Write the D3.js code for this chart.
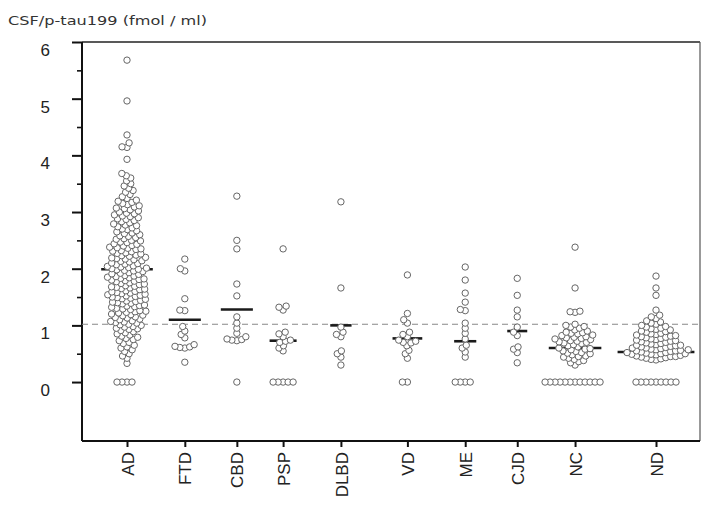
<!DOCTYPE html>
<html>
<head>
<meta charset="utf-8">
<script src="https://cdn.jsdelivr.net/npm/d3@7"></script>
<style>
  body { margin: 0; background: #fff; }
  svg { display: block; }
</style>
</head>
<body>
<div id="chart"></div>
<script>
// ---- data ----
var categories = ["AD", "FTD", "CBD", "PSP", "DLBD", "VD", "ME", "CJD", "NC", "ND"];

var valuesAD = [5.68, 4.96, 4.36, 4.22, 4.15, 4.14, 3.93, 3.68, 3.64, 3.6,
  3.55, 3.5, 3.46, 3.42,
  3.38, 3.35, 3.31, 3.27, 3.24, 3.21,
  3.19, 3.17, 3.15, 3.13, 3.11, 3.09, 3.07, 3.06, 3.04,
  3.02, 3.0, 2.98, 2.97, 2.95, 2.93, 2.92, 2.9, 2.88, 2.87,
  2.85, 2.83, 2.81, 2.79, 2.77, 2.76, 2.74, 2.72, 2.7, 2.69,
  2.67, 2.65, 2.63, 2.62, 2.6, 2.58, 2.57, 2.55, 2.53, 2.52, 2.5,
  2.49, 2.47, 2.46, 2.44, 2.43, 2.41, 2.4, 2.38, 2.37, 2.36, 2.35, 2.34,
  2.32, 2.31, 2.3, 2.28, 2.27, 2.26, 2.24, 2.23, 2.22, 2.2, 2.19, 2.18, 2.17, 2.16,
  2.14, 2.13, 2.12, 2.1, 2.09, 2.08, 2.07, 2.05, 2.04, 2.03, 2.02, 2.01, 2.0, 1.99, 1.98,
  1.97, 1.96, 1.95, 1.93, 1.92, 1.91, 1.9, 1.88, 1.87, 1.86, 1.85, 1.84, 1.83, 1.82, 1.81, 1.8,
  1.79, 1.78, 1.77, 1.75, 1.74, 1.73, 1.72, 1.7, 1.69, 1.68, 1.67, 1.66, 1.65, 1.64, 1.63,
  1.61, 1.6, 1.59, 1.58, 1.57, 1.56, 1.55, 1.54, 1.53, 1.52, 1.51, 1.5, 1.49, 1.48, 1.47, 1.46,
  1.44, 1.43, 1.42, 1.41, 1.4, 1.39, 1.38, 1.36, 1.35, 1.34, 1.33, 1.32, 1.3, 1.29, 1.28,
  1.26, 1.25, 1.24, 1.23, 1.22, 1.2, 1.19, 1.18, 1.17, 1.15, 1.14, 1.13, 1.11, 1.1,
  1.08, 1.07, 1.06, 1.05, 1.04, 1.02, 1.01, 1.0, 0.98, 0.97, 0.95, 0.94, 0.93,
  0.91, 0.89, 0.87, 0.85, 0.83, 0.81, 0.79, 0.77, 0.75,
  0.73, 0.7, 0.68, 0.65, 0.62, 0.6, 0.57,
  0.54, 0.5, 0.46, 0.42, 0.33,
  0, 0, 0, 0];
var valuesFTD = [2.17, 2.0, 1.96, 1.47, 1.27, 1.26, 0.98, 0.9, 0.84, 0.78, 0.66, 0.63, 0.62, 0.61, 0.6, 0.35];
var valuesCBD = [3.28, 2.5, 2.35, 1.73, 1.52, 1.15, 1.04, 0.95, 0.86, 0.8, 0.76, 0.75, 0.74, 0.73, 0];
var valuesPSP = [2.35, 1.34, 1.32, 1.27, 0.88, 0.85, 0.8, 0.74, 0.72, 0.7, 0.64, 0.6, 0.55, 0, 0, 0, 0, 0];
var valuesDLBD = [3.18, 1.66, 0.97, 0.88, 0.84, 0.8, 0.55, 0.5, 0.44, 0.3];
var valuesVD = [1.89, 1.21, 1.1, 1.04, 0.88, 0.84, 0.8, 0.74, 0.72, 0.7, 0.69, 0.64, 0.56, 0.5, 0.42, 0, 0];
var valuesME = [2.03, 1.8, 1.57, 1.41, 1.28, 1.26, 1.04, 0.95, 0.86, 0.76, 0.65, 0.6, 0.53, 0.44, 0, 0, 0, 0];
var valuesCJD = [1.83, 1.53, 1.27, 1.15, 0.97, 0.88, 0.82, 0.62, 0.58, 0.52, 0.34];
var valuesNC = [2.38, 1.66, 1.25, 1.24, 1.23, 1.02, 1.0, 0.98, 0.97, 0.95, 0.92, 0.9, 0.88, 0.87,
  0.86, 0.85, 0.83, 0.82, 0.8, 0.79, 0.78, 0.77, 0.76, 0.75, 0.73, 0.72, 0.71, 0.7, 0.69, 0.68,
  0.66, 0.64, 0.62, 0.6, 0.59, 0.58, 0.57, 0.55, 0.54, 0.52, 0.51, 0.5, 0.48, 0.46, 0.45, 0.44,
  0.42, 0.4, 0.38, 0.36, 0.34, 0.3,
  0, 0, 0, 0, 0, 0, 0, 0, 0, 0, 0, 0];
var valuesND = [1.87, 1.66, 1.53, 1.27,
  1.18, 1.15, 1.12,
  1.08, 1.06, 1.04, 1.02, 1.0,
  0.98, 0.97, 0.95, 0.94, 0.93, 0.92,
  0.9, 0.89, 0.88, 0.86, 0.85, 0.84, 0.83,
  0.82, 0.81, 0.8, 0.79, 0.78, 0.77, 0.76, 0.75, 0.74,
  0.73, 0.72, 0.71, 0.7, 0.69, 0.68, 0.67, 0.66, 0.65, 0.65,
  0.64, 0.63, 0.62, 0.61, 0.6, 0.6, 0.59, 0.58, 0.57, 0.57, 0.56,
  0.55, 0.55, 0.54, 0.53, 0.52, 0.52, 0.51, 0.5, 0.5, 0.49, 0.49, 0.48,
  0.47, 0.46, 0.45, 0.45, 0.44, 0.43, 0.42, 0.41, 0.4, 0.39,
  0, 0, 0, 0, 0, 0, 0, 0, 0];

var means = [1.99, 1.10, 1.28, 0.73, 1.00, 0.77, 0.72, 0.90, 0.60, 0.53];
var cutoff = 1.02;
var yTicks = [0, 1, 2, 3, 4, 5, 6];
var yMinorTicks = [0.5, 1.5, 2.5, 3.5, 4.5, 5.5];

var groups = [valuesAD, valuesFTD, valuesCBD, valuesPSP, valuesDLBD, valuesVD, valuesME, valuesCJD, valuesNC, valuesND];

// ---- layout ----
var width = 703, height = 505;
var plotL = 82, plotR = 700, plotT = 42, plotB = 441;
var slot = [0, 1, 1.9, 2.7, 3.7, 4.85, 5.85, 6.75, 7.75, 9.15]; // uneven column spacing
var r = 3.2, gap = 5.0;

var svg = d3.select('#chart').append('svg')
  .attr('width', width)
  .attr('height', height);

var y = d3.scaleLinear().domain([-1.04, 6]).range([plotB, plotT]);
var x = d3.scaleLinear().domain([0, 9.15]).range([127, 656]);

// title
svg.append('text')
  .attr('x', 8)
  .attr('y', 25)
  .attr('font-family', 'DejaVu Sans')
  .attr('font-size', '12.5px')
  .attr('fill', '#333')
  .attr('textLength', 199)
  .attr('lengthAdjust', 'spacingAndGlyphs')
  .text('CSF/p-tau199 (fmol / ml)');

// frame
svg.append('line').attr('x1', plotL).attr('x2', plotR).attr('y1', plotT).attr('y2', plotT)
  .attr('stroke', '#222').attr('stroke-width', 1.6);
svg.append('line').attr('x1', plotR).attr('x2', plotR).attr('y1', plotT).attr('y2', plotB)
  .attr('stroke', '#555').attr('stroke-width', 1.2);
svg.append('line').attr('x1', plotL).attr('x2', plotL).attr('y1', plotT).attr('y2', plotB)
  .attr('stroke', '#111').attr('stroke-width', 2);
svg.append('line').attr('x1', plotL).attr('x2', plotR).attr('y1', plotB).attr('y2', plotB)
  .attr('stroke', '#111').attr('stroke-width', 2);

// y axis
var yAxis = svg.append('g')
  .attr('transform', 'translate(' + plotL + ',0)')
  .call(d3.axisLeft(y).tickValues(yTicks).tickSize(10).tickPadding(22).tickFormat(d3.format('d')));
yAxis.select('.domain').remove();
yAxis.selectAll('line').attr('stroke', '#111').attr('stroke-width', 2);
yAxis.selectAll('text')
  .attr('font-family', 'Liberation Sans')
  .attr('font-size', '17px')
  .attr('fill', '#222')
  .attr('dy', '0.8em');

var yMinor = svg.append('g')
  .attr('transform', 'translate(' + plotL + ',0)')
  .call(d3.axisLeft(y).tickValues(yMinorTicks).tickSize(5).tickFormat(''));
yMinor.select('.domain').remove();
yMinor.selectAll('line').attr('stroke', '#111').attr('stroke-width', 1.6);

// x axis
var xAxis = svg.append('g')
  .attr('transform', 'translate(0,' + plotB + ')')
  .call(d3.axisBottom(x).tickValues(slot).tickSize(6)
    .tickFormat(function(d, i) { return categories[i]; }));
xAxis.select('.domain').remove();
xAxis.selectAll('line').attr('stroke', '#111').attr('stroke-width', 2);
xAxis.selectAll('text')
  .attr('font-family', 'Liberation Sans')
  .attr('font-size', '17px')
  .attr('fill', '#222')
  .attr('transform', 'rotate(-90)')
  .attr('x', -11)
  .attr('y', 0)
  .attr('dy', '0.36em')
  .style('text-anchor', 'end');

// cut-off line
svg.append('line')
  .attr('x1', plotL).attr('x2', plotR)
  .attr('y1', y(cutoff)).attr('y2', y(cutoff))
  .attr('stroke', '#888')
  .attr('stroke-width', 1.2)
  .attr('stroke-dasharray', '6,4');

// simple greedy beeswarm: each point goes as close to the column centre as it can
function swarm(vals, cx) {
  var pts = vals.map(function(v) { return {v: v, y: y(v)}; })
    .sort(function(a, b) { return a.v - b.v; });
  var placed = [];
  pts.forEach(function(p) {
    var blocked = [];
    placed.forEach(function(q) {
      var dy = Math.abs(q.y - p.y);
      if (dy < gap) {
        var dx = Math.sqrt(gap * gap - dy * dy);
        blocked.push([q.x - dx, q.x + dx]);
      }
    });
    var cands = [cx];
    blocked.forEach(function(b) { cands.push(b[0], b[1]); });
    cands.sort(function(a, b) { return Math.abs(a - cx) - Math.abs(b - cx); });
    for (var k = 0; k < cands.length; k++) {
      var c = cands[k];
      var hit = blocked.some(function(b) { return c > b[0] + 1e-6 && c < b[1] - 1e-6; });
      if (!hit) { p.x = c; break; }
    }
    placed.push(p);
  });
  return placed;
}

var swarms = groups.map(function(vals, i) { return swarm(vals, x(slot[i])); });

function halfBar(i) {
  var cx = x(slot[i]);
  var ext = d3.max(swarms[i].filter(function(p) { return p.v > 0; }), function(p) { return Math.abs(p.x - cx); });
  return Math.max(ext + r + 3, 10);
}

// mean bars (behind the dots)
svg.selectAll('.mean')
  .data(means)
  .enter().append('line')
  .attr('class', 'mean')
  .attr('x1', function(d, i) { return x(slot[i]) - halfBar(i); })
  .attr('x2', function(d, i) { return x(slot[i]) + halfBar(i); })
  .attr('y1', function(d) { return y(d); })
  .attr('y2', function(d) { return y(d); })
  .attr('stroke', '#1a1a1a')
  .attr('stroke-width', 2.6);

// dots
var cols = svg.selectAll('.col')
  .data(swarms)
  .enter().append('g')
  .attr('class', 'col');

cols.selectAll('circle')
  .data(function(d) { return d; })
  .enter().append('circle')
  .attr('cx', function(d) { return d.x; })
  .attr('cy', function(d) { return d.y; })
  .attr('r', r)
  .attr('fill', '#fff')
  .attr('stroke', '#666')
  .attr('stroke-width', 1);
</script>
</body>
</html>
